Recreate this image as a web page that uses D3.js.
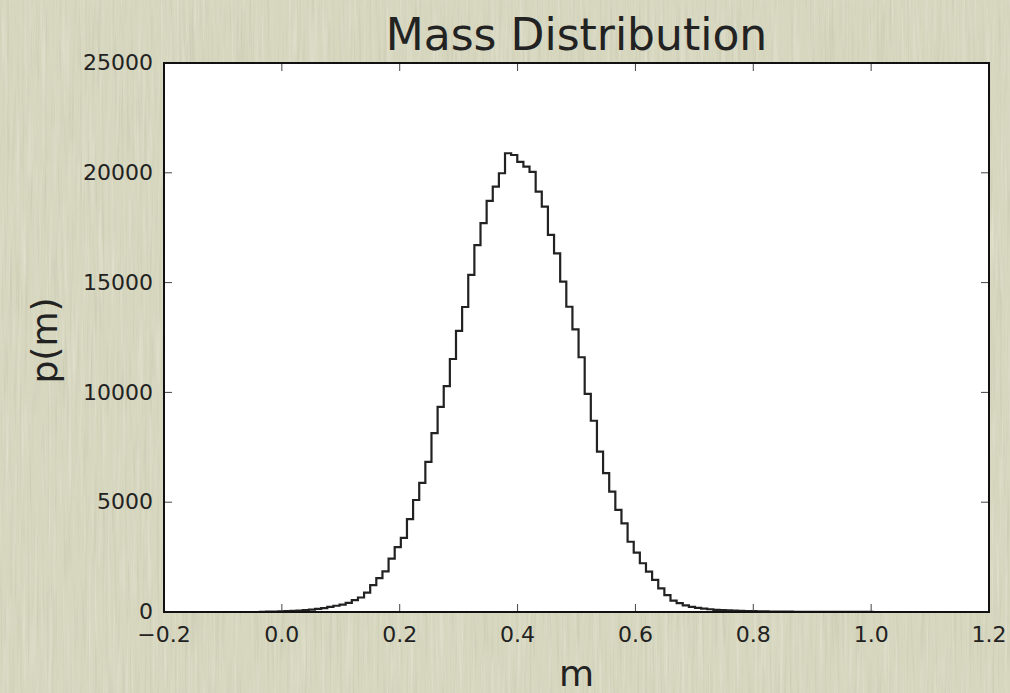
<!DOCTYPE html>
<html>
<head>
<meta charset="utf-8">
<script src="https://cdn.jsdelivr.net/npm/d3@7"></script>
<style>
  html, body { margin: 0; padding: 0; background: #d6d5bd; }
  svg { display: block; }
  text { font-family: "DejaVu Sans", sans-serif; fill: #222; }
</style>
</head>
<body>
<svg id="chart" width="1010" height="693"></svg>
<script>
// ---- data ----
const title = "Mass Distribution";
const xLabel = "m";
const yLabel = "p(m)";
const massRange = [-0.0373, 1.0027];   // histogram range (min, max of m)
const counts = [
  10, 15, 20, 28, 38, 50, 65, 85, 110, 140,
  180, 230, 285, 340, 420, 540, 660, 880, 1220, 1540,
  1850, 2430, 2950, 3380, 4230, 5100, 5880, 6840, 8150, 9340,
  10290, 11520, 12800, 13890, 15350, 16710, 17710, 18720, 19370, 19980,
  20890, 20810, 20500, 20280, 20040, 19140, 18460, 17170, 16330, 15040,
  13900, 12870, 11600, 9930, 8710, 7300, 6320, 5480, 4650, 4040,
  3200, 2700, 2220, 1840, 1460, 1080, 770, 520, 400, 300,
  230, 185, 150, 125, 100, 85, 72, 60, 50, 42,
  36, 30, 26, 22, 19, 16, 14, 12, 10, 9,
  8, 7, 6, 5, 5, 4, 3, 3, 2, 2
];
const xTicks = [-0.2, 0.0, 0.2, 0.4, 0.6, 0.8, 1.0, 1.2];
const yTicks = [0, 5000, 10000, 15000, 20000, 25000];
const xDomain = [-0.2, 1.2];
const yDomain = [0, 25000];

// ---- layout ----
const W = 1010, H = 693;
const m = { left: 164, top: 63, right: 21, bottom: 81 };
const pw = W - m.left - m.right, ph = H - m.top - m.bottom;

const svg = d3.select("#chart");

// textured background
const defs = svg.append("defs");
const fDark = defs.append("filter").attr("id", "texDark").attr("x", 0).attr("y", 0).attr("width", 1).attr("height", 1);
fDark.append("feTurbulence").attr("type", "fractalNoise").attr("baseFrequency", "0.4 0.012").attr("numOctaves", 3).attr("seed", 4);
fDark.append("feColorMatrix").attr("type", "matrix")
  .attr("values", "0 0 0 0 0.35  0 0 0 0 0.35  0 0 0 0 0.25  1.0 0 0 0 -0.5");
const fLight = defs.append("filter").attr("id", "texLight").attr("x", 0).attr("y", 0).attr("width", 1).attr("height", 1);
fLight.append("feTurbulence").attr("type", "fractalNoise").attr("baseFrequency", "0.35 0.01").attr("numOctaves", 3).attr("seed", 11);
fLight.append("feColorMatrix").attr("type", "matrix")
  .attr("values", "0 0 0 0 1  0 0 0 0 1  0 0 0 0 0.95  -1.0 0 0 0 0.5");

svg.append("rect").attr("width", W).attr("height", H).attr("fill", "#d7d6bf");
svg.append("rect").attr("width", W).attr("height", H).attr("filter", "url(#texDark)").attr("opacity", 0.5);
svg.append("rect").attr("width", W).attr("height", H).attr("filter", "url(#texLight)").attr("opacity", 0.6);

const x = d3.scaleLinear().domain(xDomain).range([m.left, m.left + pw]);
const y = d3.scaleLinear().domain(yDomain).range([m.top + ph, m.top]);

// plot area
svg.append("rect").attr("x", m.left).attr("y", m.top).attr("width", pw).attr("height", ph).attr("fill", "#fff");

defs.append("clipPath").attr("id", "clip").append("rect")
  .attr("x", m.left).attr("y", m.top).attr("width", pw).attr("height", ph);

// histogram step outline
const nb = counts.length;
const bw = (massRange[1] - massRange[0]) / nb;
const pts = [[massRange[0], 0]];
counts.forEach((c, i) => {
  const x0 = massRange[0] + i * bw, x1 = massRange[0] + (i + 1) * bw;
  pts.push([x0, c]); pts.push([x1, c]);
});
pts.push([massRange[1], 0]);
const line = d3.line().x(d => x(d[0])).y(d => y(d[1]));
svg.append("path").attr("clip-path", "url(#clip)")
  .attr("d", line(pts)).attr("fill", "none").attr("stroke", "#222").attr("stroke-width", 2.2)
  .attr("stroke-linejoin", "miter");

// ticks (inward, all four sides)
const tl = 8;
const tg = svg.append("g").attr("stroke", "#444").attr("stroke-width", 1);
xTicks.forEach(t => {
  tg.append("line").attr("x1", x(t)).attr("x2", x(t)).attr("y1", m.top + ph).attr("y2", m.top + ph - tl);
  tg.append("line").attr("x1", x(t)).attr("x2", x(t)).attr("y1", m.top).attr("y2", m.top + tl);
});
yTicks.forEach(t => {
  tg.append("line").attr("x1", m.left).attr("x2", m.left + tl).attr("y1", y(t)).attr("y2", y(t));
  tg.append("line").attr("x1", m.left + pw).attr("x2", m.left + pw - tl).attr("y1", y(t)).attr("y2", y(t));
});

// frame
svg.append("rect").attr("x", m.left).attr("y", m.top).attr("width", pw).attr("height", ph)
  .attr("fill", "none").attr("stroke", "#111").attr("stroke-width", 2);

// tick labels
const fx = d3.format(".1f");
svg.append("g").selectAll("text").data(xTicks).join("text")
  .attr("x", d => x(d)).attr("y", m.top + ph + 30)
  .attr("text-anchor", "middle").attr("font-size", 22).text(d => fx(d));
svg.append("g").selectAll("text").data(yTicks).join("text")
  .attr("x", m.left - 11).attr("y", d => y(d)).attr("dy", "0.33em")
  .attr("text-anchor", "end").attr("font-size", 22).text(d => d3.format("d")(d));

// title & labels
svg.append("text").attr("x", m.left + pw / 2).attr("y", 50).attr("text-anchor", "middle")
  .attr("font-size", 44).text(title);
svg.append("text").attr("x", m.left + pw / 2).attr("y", 686).attr("text-anchor", "middle")
  .attr("font-size", 36).text(xLabel);
svg.append("text").attr("transform", `translate(57, ${m.top + ph / 2 + 3}) rotate(-90)`)
  .attr("text-anchor", "middle").attr("font-size", 36).text(yLabel);
</script>
</body>
</html>
